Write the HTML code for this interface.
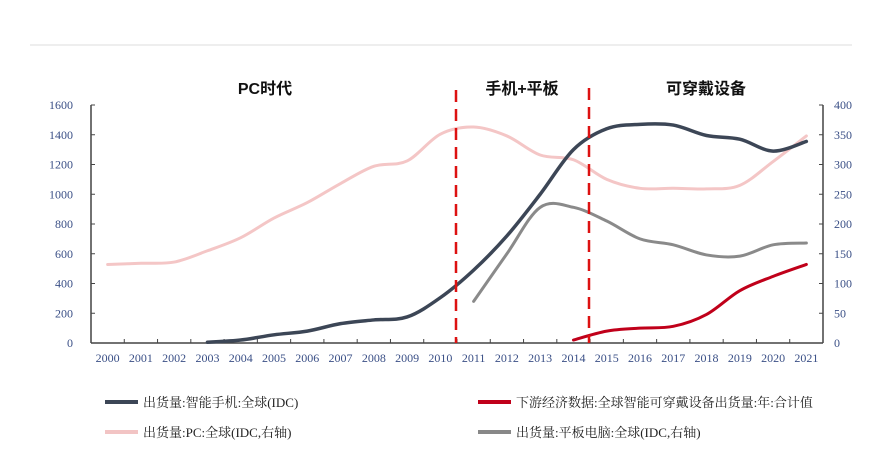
<!DOCTYPE html>
<html><head><meta charset="utf-8"><style>
body{margin:0;background:#fff;width:882px;height:467px;overflow:hidden}
svg{display:block}
text{font-family:"Liberation Serif","Noto Serif CJK SC",serif}
.t{font-family:"Liberation Sans","Noto Sans CJK SC",sans-serif;font-weight:bold;font-size:16px;fill:#111}
.ax{font-size:12px;fill:#3a4f86}
.lg{font-size:13px;fill:#222;font-family:"Liberation Serif","Noto Serif CJK SC",serif}
</style></head><body>
<svg id="s" width="882" height="467" viewBox="0 0 882 467">
<line x1="30" y1="45" x2="852" y2="45" stroke="#ddd" stroke-width="1"/>
<text class="t" x="265" y="94" text-anchor="middle">PC时代</text>
<text class="t" x="522" y="94" text-anchor="middle">手机+平板</text>
<text class="t" x="706" y="94" text-anchor="middle">可穿戴设备</text>
<g id="g"></g>
<line x1="105" y1="402" x2="138" y2="402" stroke="#3c4656" stroke-width="4"/>
<text class="lg" x="143" y="407">出货量:智能手机:全球(IDC)</text>
<line x1="105" y1="432" x2="138" y2="432" stroke="#f2c4c4" stroke-width="4"/>
<text class="lg" x="143" y="437">出货量:PC:全球(IDC,右轴)</text>
<line x1="478" y1="402" x2="511" y2="402" stroke="#c0001a" stroke-width="4"/>
<text class="lg" x="516" y="407">下游经济数据:全球智能可穿戴设备出货量:年:合计值</text>
<line x1="478" y1="432" x2="511" y2="432" stroke="#888" stroke-width="4"/>
<text class="lg" x="516" y="437">出货量:平板电脑:全球(IDC,右轴)</text>
</svg>
<script>
const g=document.getElementById('g');let h='';
const L=91,R=823,B=343,T=105,W=(R-L)/22;
const cx=i=>L+W*(i+0.5), yl=v=>B-v*(B-T)/1600, yr=v=>B-v*(B-T)/400;
h+=`<line x1="${L}" y1="${T}" x2="${L}" y2="${B}" stroke="#444" stroke-width="1.5"/>`;
h+=`<line x1="${R}" y1="${T}" x2="${R}" y2="${B}" stroke="#444" stroke-width="1.5"/>`;
h+=`<line x1="${L}" y1="${B}" x2="${R}" y2="${B}" stroke="#444" stroke-width="1.5"/>`;
for(let k=0;k<=8;k++){let y=yl(k*200);h+=`<line x1="${L}" y1="${y}" x2="${L+4}" y2="${y}" stroke="#444"/><text class="ax" x="${L-18}" y="${y+4}" text-anchor="end">${k*200}</text>`;
 h+=`<line x1="${R-4}" y1="${y}" x2="${R}" y2="${y}" stroke="#444"/><text class="ax" x="${R+11}" y="${y+4}">${k*50}</text>`;}
for(let i=0;i<=22;i++){let x=L+W*i;h+=`<line x1="${x}" y1="${B-4}" x2="${x}" y2="${B}" stroke="#444"/>`;}
for(let i=0;i<22;i++)h+=`<text class="ax" x="${cx(i)}" y="${B+19}" text-anchor="middle">${2000+i}</text>`;
function path(pts,c,w){let d=`M${pts[0][0]},${pts[0][1]}`;for(let i=0;i<pts.length-1;i++){let p0=pts[i-1]||pts[i],p1=pts[i],p2=pts[i+1],p3=pts[i+2]||p2;
 d+=` C${p1[0]+(p2[0]-p0[0])/6},${p1[1]+(p2[1]-p0[1])/6} ${p2[0]-(p3[0]-p1[0])/6},${p2[1]-(p3[1]-p1[1])/6} ${p2[0]},${p2[1]}`;}
 return `<path d="${d}" fill="none" stroke="${c}" stroke-width="${w}" stroke-linecap="round"/>`;}
const pc=[132,134,136,155,177,210,236,268,297,306,351,363,348,316,308,275,260,260,259,265,305,348];
h+=path(pc.map((v,i)=>[cx(i),yr(v)]),'#f4c6c6',3);
const tab=[70,150,228,228,205,175,165,148,146,165,168];
h+=path(tab.map((v,i)=>[cx(i+11),yr(v)]),'#8a8a8a',3);
const sp=[5,20,55,80,130,155,175,305,490,720,1000,1300,1440,1470,1465,1395,1370,1290,1355];
h+=path(sp.map((v,i)=>[cx(i+3),yl(v)]),'#3c4656',3.5);
const we=[5,20,25,28,48,88,112,132];
h+=path(we.map((v,i)=>[cx(i+14),yr(v)]),'#c0001a',3);
h+=`<line x1="456" y1="90" x2="456" y2="${B}" stroke="#d11" stroke-width="2.5" stroke-dasharray="12,7"/>`;
h+=`<line x1="589" y1="88" x2="589" y2="${B}" stroke="#d11" stroke-width="2.5" stroke-dasharray="12,7"/>`;
g.innerHTML=h;
</script>
</body></html>
